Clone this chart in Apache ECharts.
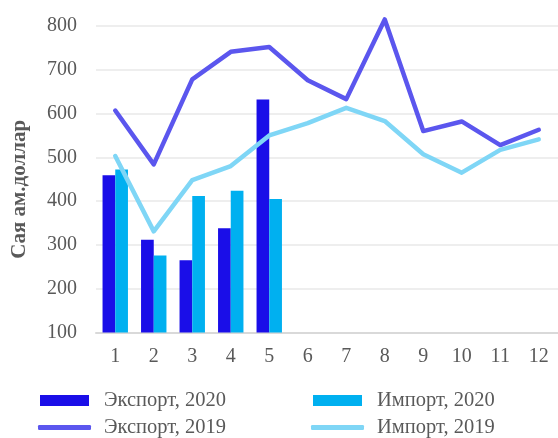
<!DOCTYPE html>
<html><head><meta charset="utf-8">
<script src="https://cdn.jsdelivr.net/npm/echarts@6/dist/echarts.min.js"></script>
<style>html,body{margin:0;padding:0;background:#fff}#c{width:558px;height:438px}</style>
</head><body><div id="c"></div>
<script>
var categories = ['1','2','3','4','5','6','7','8','9','10','11','12'];
var export2020 = [459, 312, 265, 338, 632];
var import2020 = [472, 276, 412, 424, 405];
var export2019 = [607, 484, 678, 741, 752, 676, 633, 815, 560, 582, 528, 563];
var import2019 = [503, 331, 448, 480, 550, 578, 613, 583, 507, 465, 517, 541];

var font = '"Liberation Serif", "Times New Roman", serif';
var chart = echarts.init(document.getElementById('c'));
function lg(name, left, top, isLine) {
  return {
    data: [{name: name, icon: isLine ? 'roundRect' : 'rect'}],
    left: left, top: top, padding: 0,
    itemWidth: isLine ? 53 : 49, itemHeight: isLine ? 5 : 11,
    textStyle: {fontFamily: font, fontSize: 20.5, color: '#595959', padding: [0,0,0,isLine ? 8 : 10]}
  };
}
chart.setOption({
  animation: false,
  grid: {left: 96, right: 0, top: 26, bottom: 105.5, outerBoundsMode: 'none', containLabel: false},
  legend: [
    lg('Экспорт, 2020', 40, 390, false),
    lg('Экспорт, 2019', 38, 417, true),
    lg('Импорт, 2020', 313, 390, false),
    lg('Импорт, 2019', 311, 417, true)
  ],
  xAxis: {
    type: 'category', data: categories,
    axisLine: {lineStyle: {color: '#d9d9d9', width: 2}},
    axisTick: {show: false},
    axisLabel: {fontFamily: font, fontSize: 20, color: '#595959', margin: 14}
  },
  yAxis: {
    type: 'value', min: 100, max: 800, interval: 100,
    name: 'Сая ам.доллар', nameLocation: 'middle', nameGap: 66,
    nameTextStyle: {fontFamily: font, fontSize: 21, fontWeight: 'bold', color: '#595959', padding: [0, 20, 0, 0]},
    axisLine: {show: false}, axisTick: {show: false},
    axisLabel: {fontFamily: font, fontSize: 20, color: '#595959', margin: 19},
    splitLine: {lineStyle: {color: '#eeeeee', width: 2}}
  },
  series: [
    {name: 'Экспорт, 2020', type: 'bar', data: export2020, barGap: '0%', barCategoryGap: '34%',
     itemStyle: {color: '#1a0ee8'}},
    {name: 'Импорт, 2020', type: 'bar', data: import2020,
     itemStyle: {color: '#00b0f0'}},
    {name: 'Экспорт, 2019', type: 'line', data: export2019, symbol: 'none', showSymbol: false, clip: false,
     lineStyle: {color: '#5b56ee', width: 4.5, cap: 'round', join: 'round'}, itemStyle: {color: '#5b56ee'}},
    {name: 'Импорт, 2019', type: 'line', data: import2019, symbol: 'none', showSymbol: false, clip: false,
     lineStyle: {color: '#7fd6f6', width: 4.5, cap: 'round', join: 'round'}, itemStyle: {color: '#7fd6f6'}}
  ]
});
</script></body></html>
